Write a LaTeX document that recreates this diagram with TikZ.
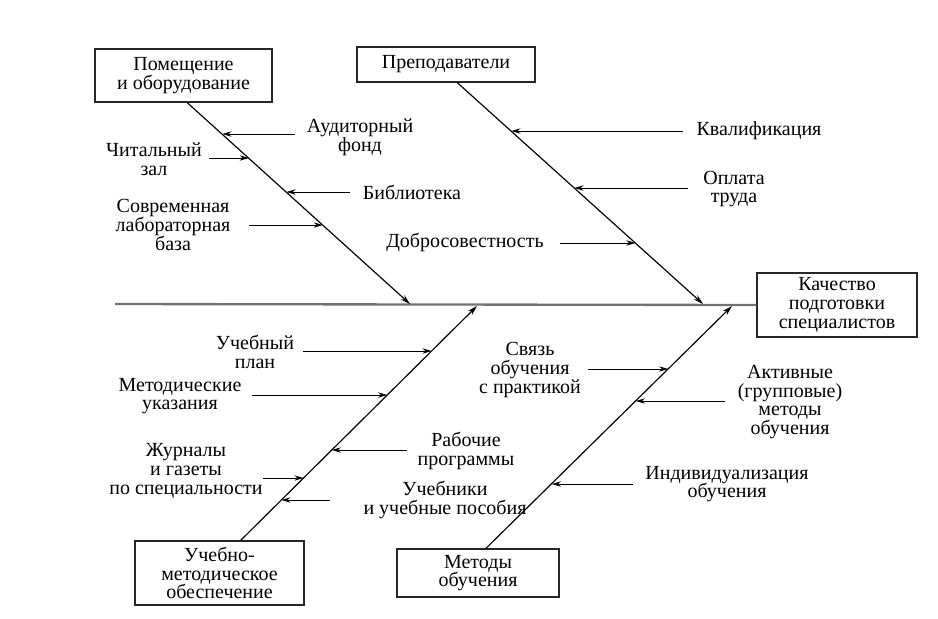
\documentclass[tikz,border=0pt]{standalone}
\usepackage{fontspec}
\setmainfont{Liberation Serif}
\usetikzlibrary{arrows.meta}
\begin{document}
\begin{tikzpicture}[x=0.6pt, y=-0.6pt,
        font=\fontsize{12}{11.2}\selectfont,
        box/.style = {draw=black!85, line width=0.9pt, align=center, inner sep=0pt},
        lbl/.style = {align=center, inner sep=0pt},
        spine/.style = {draw=black!55, line width=1.4pt},
        bone/.style = {line width=0.7pt, -{Stealth[length=6pt, width=3.4pt]}},
        cause/.style = {line width=0.6pt, -{Stealth[length=5.5pt, width=3.2pt]}}]

        \useasboundingbox (0,0) rectangle (938,618);

        % Boxes
        \node[box, minimum width=106.2pt, minimum height=31.8pt] (room) at (183.5,75.5) {Помещение\\и оборудование};
        \node[box, minimum width=106.8pt, minimum height=21pt] (staff) at (446,64.5) {Преподаватели};
        \node[box, minimum width=96pt, minimum height=38.4pt] (result) at (837,305) {Качество\\подготовки\\специалистов};
        \node[box, minimum width=101.4pt, minimum height=38.4pt] (support) at (219.5,573) {Учебно-\\методическое\\обеспечение};
        \node[box, minimum width=97.2pt, minimum height=28.8pt] (methods) at (478,573) {Методы\\обучения};

        % Spine
        \coordinate (head) at (115,304);
        \draw[spine] (head) -- (result.west);

        % Bones
        \coordinate (t1) at (410,304);
        \coordinate (t2) at (703,304);
        \coordinate (t3) at (477,306);
        \coordinate (t4) at (732,306);
        \draw[bone] (room.-82) -- (t1);
        \draw[bone] (staff.-58) -- (t2);
        \draw[bone] (support.57) -- (t3);
        \draw[bone] (methods.72) -- (t4);

        % Room causes
        \node[lbl] (aud) at (360,137) {Аудиторный\\фонд};
        \node[lbl] (read) at (154,159) {Читальный\\зал};
        \node[lbl] (lib) at (412,192) {Библиотека};
        \node[lbl] (lab) at (173,225) {Современная\\лабораторная\\база};
        \coordinate (aud-s) at (295,134);   \coordinate (aud-e) at (222.3,134);
        \coordinate (read-s) at (209,158);  \coordinate (read-e) at (248.8,158);
        \coordinate (lib-s) at (350,192);   \coordinate (lib-e) at (286.4,192);
        \coordinate (lab-s) at (249,225);   \coordinate (lab-e) at (322.8,225);
        \draw[cause] (aud-s) -- (aud-e);
        \draw[cause] (read-s) -- (read-e);
        \draw[cause] (lib-s) -- (lib-e);
        \draw[cause] (lab-s) -- (lab-e);

        % Staff causes
        \node[lbl] (qual) at (759,131) {Квалификация};
        \node[lbl] (pay) at (734,189) {Оплата\\труда};
        \node[lbl] (honest) at (465,242) {Добросовестность};
        \coordinate (qual-s) at (683,131);  \coordinate (qual-e) at (511.3,131);
        \coordinate (pay-s) at (688,188);   \coordinate (pay-e) at (574.4,188);
        \coordinate (honest-s) at (560,243); \coordinate (honest-e) at (635.4,243);
        \draw[cause] (qual-s) -- (qual-e);
        \draw[cause] (pay-s) -- (pay-e);
        \draw[cause] (honest-s) -- (honest-e);

        % Support causes
        \node[lbl] (plan) at (255,352) {Учебный\\план};
        \node[lbl] (guide) at (180,396) {Методические\\указания};
        \node[lbl] (prog) at (466,451) {Рабочие\\программы};
        \node[lbl] (press) at (186,471) {Журналы\\и газеты\\по специальности};
        \node[lbl] (books) at (445,500) {Учебники\\и учебные пособия};
        \coordinate (plan-s) at (303,351);  \coordinate (plan-e) at (431.6,351);
        \coordinate (guide-s) at (252,395); \coordinate (guide-e) at (387.2,395);
        \coordinate (prog-s) at (407,450);  \coordinate (prog-e) at (331.8,450);
        \coordinate (press-s) at (263,478); \coordinate (press-e) at (303.5,478);
        \coordinate (books-s) at (330,500); \coordinate (books-e) at (281.3,500);
        \draw[cause] (plan-s) -- (plan-e);
        \draw[cause] (guide-s) -- (guide-e);
        \draw[cause] (prog-s) -- (prog-e);
        \draw[cause] (press-s) -- (press-e);
        \draw[cause] (books-s) -- (books-e);

        % Method causes
        \node[lbl] (link) at (530,370) {Связь\\обучения\\с практикой};
        \node[lbl] (active) at (790,402) {Активные\\(групповые)\\методы\\обучения};
        \node[lbl] (indiv) at (727,484) {Индивидуализация\\обучения};
        \coordinate (link-s) at (588,369);   \coordinate (link-e) at (668.2,369);
        \coordinate (active-s) at (725,401); \coordinate (active-e) at (635.8,401);
        \coordinate (indiv-s) at (633,484);  \coordinate (indiv-e) at (551.8,484);
        \draw[cause] (link-s) -- (link-e);
        \draw[cause] (active-s) -- (active-e);
        \draw[cause] (indiv-s) -- (indiv-e);
    \end{tikzpicture}
\end{document}
